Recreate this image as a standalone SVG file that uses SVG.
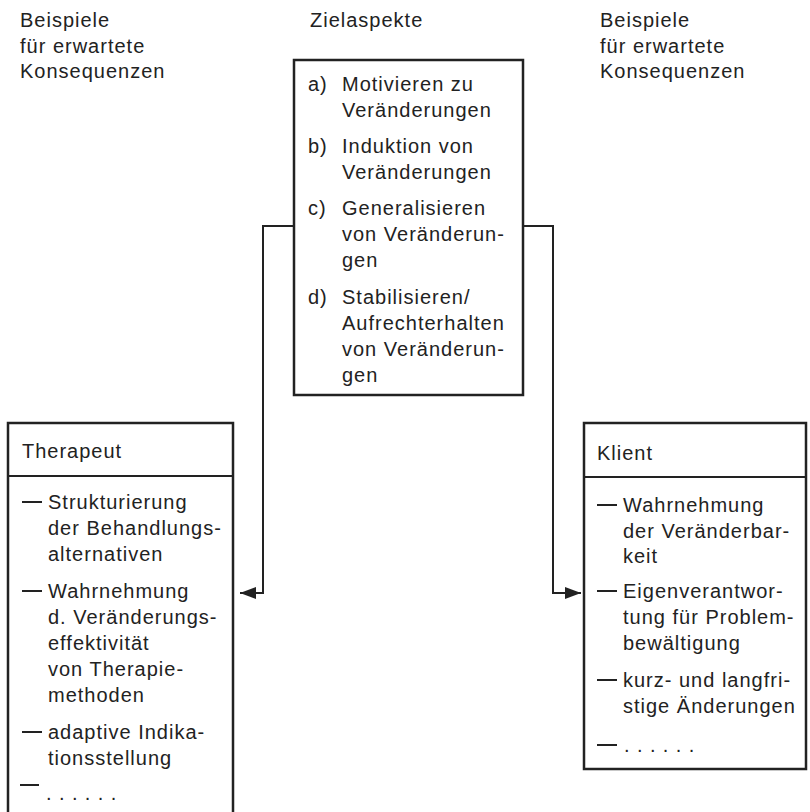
<svg xmlns="http://www.w3.org/2000/svg" width="810" height="812" viewBox="0 0 810 812">
  <style>
    text { font-family: "Liberation Sans", Arial, Helvetica, sans-serif; font-size: 20px; letter-spacing: 1px; fill: #222; }
    .dots { letter-spacing: 7.4px; }
    .box { fill: none; stroke: #222; stroke-width: 2.5; }
    .rule { stroke: #222; stroke-width: 2.2; }
    .conn { fill: none; stroke: #222; stroke-width: 2; }
    .dash { stroke: #222; stroke-width: 2; }
  </style>
  <defs>
    <marker id="arrow" viewBox="0 0 16 12" refX="16" refY="6" markerWidth="16" markerHeight="12" markerUnits="userSpaceOnUse" orient="auto">
      <path d="M0,0 L16,6 L0,12 z" fill="#222"/>
    </marker>
  </defs>
  <rect width="810" height="812" fill="#fff"/>

  <!-- column headings -->
  <g id="heading-left">
    <text x="20" y="27">Beispiele</text>
    <text x="20" y="53">für erwartete</text>
    <text x="20" y="78">Konsequenzen</text>
  </g>
  <g id="heading-center">
    <text x="310" y="27">Zielaspekte</text>
  </g>
  <g id="heading-right">
    <text x="600" y="27">Beispiele</text>
    <text x="600" y="53">für erwartete</text>
    <text x="600" y="78">Konsequenzen</text>
  </g>

  <!-- goal aspects -->
  <g id="zielaspekte">
    <rect class="box" x="294" y="60" width="229" height="335"/>
    <text x="308" y="91">a)</text>
    <text x="342" y="91">Motivieren zu</text>
    <text x="342" y="117">Veränderungen</text>
    <text x="308" y="153">b)</text>
    <text x="342" y="153">Induktion von</text>
    <text x="342" y="179">Veränderungen</text>
    <text x="308" y="215">c)</text>
    <text x="342" y="215">Generalisieren</text>
    <text x="342" y="241">von Veränderun-</text>
    <text x="342" y="267">gen</text>
    <text x="308" y="304">d)</text>
    <text x="342" y="304">Stabilisieren/</text>
    <text x="342" y="330">Aufrechterhalten</text>
    <text x="342" y="356">von Veränderun-</text>
    <text x="342" y="382">gen</text>
  </g>

  <!-- therapist consequences -->
  <g id="therapeut">
    <rect class="box" x="8" y="423" width="225" height="400"/>
    <line class="rule" x1="8" y1="476" x2="233" y2="476"/>
    <text x="22" y="458">Therapeut</text>
    <line class="dash" x1="22" y1="502" x2="42" y2="502"/>
    <text x="48" y="509">Strukturierung</text>
    <text x="48" y="535">der Behandlungs-</text>
    <text x="48" y="561">alternativen</text>
    <line class="dash" x1="22" y1="591" x2="42" y2="591"/>
    <text x="48" y="598">Wahrnehmung</text>
    <text x="48" y="624">d. Veränderungs-</text>
    <text x="48" y="650">effektivität</text>
    <text x="48" y="676">von Therapie-</text>
    <text x="48" y="702">methoden</text>
    <line class="dash" x1="22" y1="732" x2="42" y2="732"/>
    <text x="48" y="739">adaptive Indika-</text>
    <text x="48" y="765">tionsstellung</text>
    <line class="dash" x1="20" y1="785" x2="39" y2="785"/>
    <text class="dots" x="46" y="800">......</text>
  </g>

  <!-- client consequences -->
  <g id="klient">
    <rect class="box" x="584" y="423" width="222" height="346"/>
    <line class="rule" x1="584" y1="477" x2="806" y2="477"/>
    <text x="597" y="460">Klient</text>
    <line class="dash" x1="597" y1="505" x2="617" y2="505"/>
    <text x="623" y="512">Wahrnehmung</text>
    <text x="623" y="538">der Veränderbar-</text>
    <text x="623" y="563">keit</text>
    <line class="dash" x1="597" y1="591" x2="617" y2="591"/>
    <text x="623" y="598">Eigenverantwor-</text>
    <text x="623" y="624">tung für Problem-</text>
    <text x="623" y="650">bewältigung</text>
    <line class="dash" x1="597" y1="680" x2="617" y2="680"/>
    <text x="623" y="687">kurz- und langfri-</text>
    <text x="623" y="713">stige Änderungen</text>
    <line class="dash" x1="597" y1="745" x2="617" y2="745"/>
    <text class="dots" x="624" y="752">......</text>
  </g>

  <!-- connectors -->
  <g id="connectors">
    <polyline class="conn" points="294,226 263,226 263,593 240,593" marker-end="url(#arrow)"/>
    <polyline class="conn" points="523,226 553,226 553,593 581,593" marker-end="url(#arrow)"/>
  </g>
</svg>
